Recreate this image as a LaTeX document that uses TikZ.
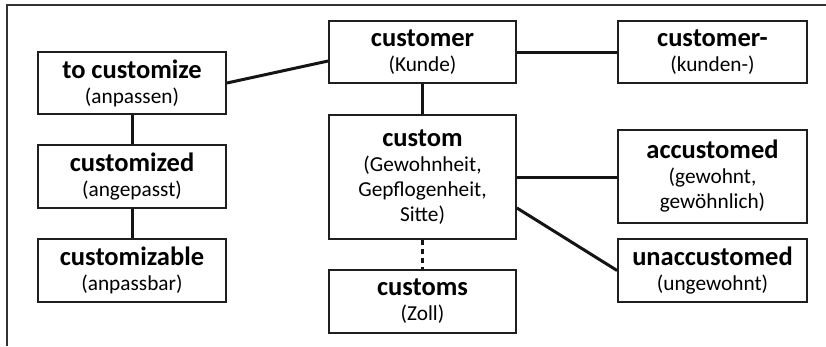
\documentclass[tikz,border=0pt]{standalone}
\usepackage{fontspec}
\setmainfont{Carlito}
\begin{document}
\begin{tikzpicture}[x=1pt,y=-1pt,
  wordbox/.style={draw=black!88, line width=1.8pt, fill=white, align=center,
    inner sep=0pt, font=\fontsize{21.3}{25}\selectfont},
  link/.style={line width=3pt, black!92},
  weaklink/.style={line width=3pt, black!92, dash pattern=on 5pt off 4pt}]
\useasboundingbox (0,0) rectangle (826,346);
\fill[white] (0,0) rectangle (826,346);
% outer frame (only its top and left edges fall inside the page)
\draw[line width=2pt, black!80] (7,346) -- (7,5) -- (826,5);

\newcommand{\hw}[1]{{\fontsize{26.5}{29}\selectfont\bfseries #1}}

% left column: the verb and its participles
\node[wordbox, minimum width=188pt, minimum height=62pt] (tocust) at (132,83)
  {\hw{to customize}\\(anpassen)};
\node[wordbox, minimum width=188pt, minimum height=63pt] (customized) at (132,176.5)
  {\hw{customized}\\(angepasst)};
\node[wordbox, minimum width=188pt, minimum height=63pt] (customizable) at (132,270.5)
  {\hw{customizable}\\(anpassbar)};

% middle column
\node[wordbox, minimum width=187pt, minimum height=62pt] (customer) at (422.5,52)
  {\hw{customer}\\(Kunde)};
\node[wordbox, minimum width=187pt, minimum height=124pt] (custom) at (422.5,177)
  {\hw{custom}\\(Gewohnheit,\\Gepflogenheit,\\Sitte)};
\node[wordbox, minimum width=187pt, minimum height=63pt] (customs) at (422.5,301.5)
  {\hw{customs}\\(Zoll)};

% right column
\node[wordbox, minimum width=189pt, minimum height=62pt] (customerdash) at (712.5,52)
  {\hw{customer-}\\(kunden-)};
\node[wordbox, minimum width=189pt, minimum height=93pt] (accustomed) at (712.5,176.5)
  {\hw{accustomed}\\(gewohnt,\\gewöhnlich)};
\node[wordbox, minimum width=189pt, minimum height=63pt] (unaccustomed) at (712.5,270.5)
  {\hw{unaccustomed}\\(ungewohnt)};

% connectors
\draw[link] (tocust.east) -- ([yshift=-9pt]customer.west);
\draw[link] (tocust.south) -- (customized.north);
\draw[link] (customized.south) -- (customizable.north);
\draw[link] (customer.south) -- (custom.north);
\draw[link] (customer.east) -- (customerdash.west);
\draw[link] (custom.east) -- (accustomed.west |- custom.east);
\draw[link] ([yshift=-31pt]custom.east) -- (unaccustomed.west);
\draw[weaklink] (custom.south) -- (customs.north);
\end{tikzpicture}
\end{document}
